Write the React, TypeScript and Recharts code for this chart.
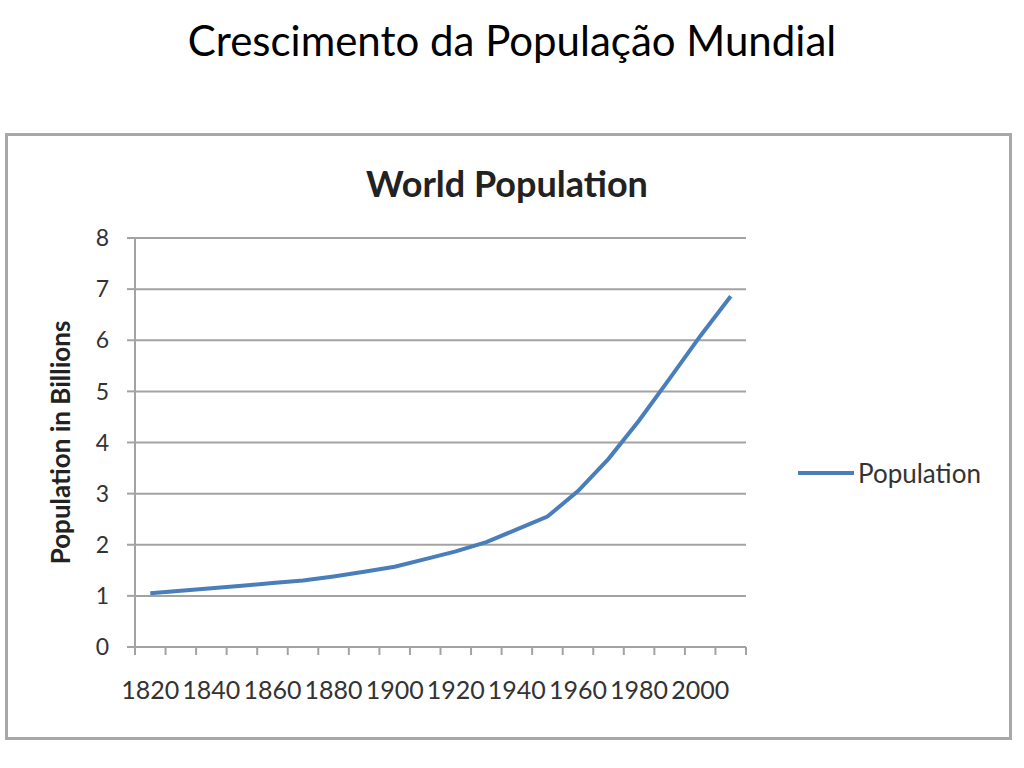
import { LineChart, Line, XAxis, YAxis, CartesianGrid, Legend } from 'recharts';

const years = [
  1820, 1830, 1840, 1850, 1860, 1870, 1880, 1890, 1900, 1910,
  1920, 1930, 1940, 1950, 1960, 1970, 1980, 1990, 2000, 2010,
];
const population = [
  1.05, 1.1, 1.15, 1.2, 1.25, 1.3, 1.38, 1.47, 1.57, 1.72,
  1.87, 2.05, 2.3, 2.55, 3.05, 3.68, 4.43, 5.25, 6.08, 6.86,
];
const decadeTicks = [
  1815, 1825, 1835, 1845, 1855, 1865, 1875, 1885, 1895, 1905, 1915,
  1925, 1935, 1945, 1955, 1965, 1975, 1985, 1995, 2005, 2015,
];
const labelTicks = [1820, 1840, 1860, 1880, 1900, 1920, 1940, 1960, 1980, 2000];
const yTicks = [0, 1, 2, 3, 4, 5, 6, 7, 8];

const data = years.map((year, i) => ({ year, population: population[i] }));

const font = "Lato, sans-serif";
const gridColor = '#a3a3a3';
const lineColor = '#4a7ebb';

const renderLegend = () => (
  <div style={{ display: 'flex', alignItems: 'center', fontFamily: font, fontSize: 26, color: '#333' }}>
    <svg width={56} height={8} style={{ marginRight: 4 }}>
      <line x1={0} y1={4} x2={56} y2={4} stroke={lineColor} strokeWidth={4} />
    </svg>
    <span>Population</span>
  </div>
);

export default function App() {
  return (
    <div style={{ position: 'absolute', left: 0, top: 0, width: 1024, height: 768, background: '#fff', overflow: 'hidden' }}>
      <div
        style={{
          position: 'absolute',
          left: 0,
          top: 15,
          width: 1024,
          textAlign: 'center',
          fontFamily: font,
          fontSize: 42,
          color: '#000',
        }}
      >
        Crescimento da População Mundial
      </div>
      <div
        style={{
          position: 'absolute',
          left: 5,
          top: 133,
          width: 1001,
          height: 601,
          border: '3px solid #a8a8a8',
        }}
      />
      <div
        style={{
          position: 'absolute',
          left: 0,
          top: 161,
          width: 1014,
          textAlign: 'center',
          fontFamily: font,
          fontSize: 36,
          fontWeight: 'bold',
          color: '#222',
        }}
      >
        World Population
      </div>
      <div style={{ position: 'absolute', left: 0, top: 0 }}>
        <LineChart
          width={1024}
          height={768}
          data={data}
          margin={{ top: 238, right: 58, left: 45, bottom: 51 }}
        >
          <CartesianGrid vertical={false} stroke={gridColor} strokeWidth={2} />
          <XAxis
            xAxisId={0}
            dataKey="year"
            type="number"
            domain={[1815, 2015]}
            ticks={decadeTicks}
            interval={0}
            tickFormatter={() => ''}
            stroke={gridColor}
            strokeWidth={2}
            tickSize={8}
            height={20}
          />
          <XAxis
            xAxisId={1}
            dataKey="year"
            type="number"
            domain={[1815, 2015]}
            ticks={labelTicks}
            interval={0}
            axisLine={false}
            tickLine={false}
            tickSize={0}
            tickMargin={14}
            height={50}
            tick={{ fontFamily: font, fontSize: 25, fill: '#333' }}
          />
          <YAxis
            domain={[0, 8]}
            ticks={yTicks}
            stroke={gridColor}
            strokeWidth={2}
            tickSize={8}
            tickMargin={18}
            width={90}
            tick={{ fontFamily: font, fontSize: 23, fill: '#333' }}
            label={{
              value: 'Population in Billions',
              angle: -90,
              position: 'insideLeft',
              offset: 16,
              style: { textAnchor: 'middle', fontFamily: font, fontSize: 26, fontWeight: 'bold', fill: '#222' },
            }}
          />
          <Legend
            layout="vertical"
            verticalAlign="middle"
            align="right"
            content={renderLegend}
            wrapperStyle={{ left: 798, top: 457, width: 220 }}
          />
          <Line
            xAxisId={0}
            type="linear"
            dataKey="population"
            name="Population"
            stroke={lineColor}
            strokeWidth={4}
            dot={false}
            isAnimationActive={false}
          />
        </LineChart>
      </div>
    </div>
  );
}
